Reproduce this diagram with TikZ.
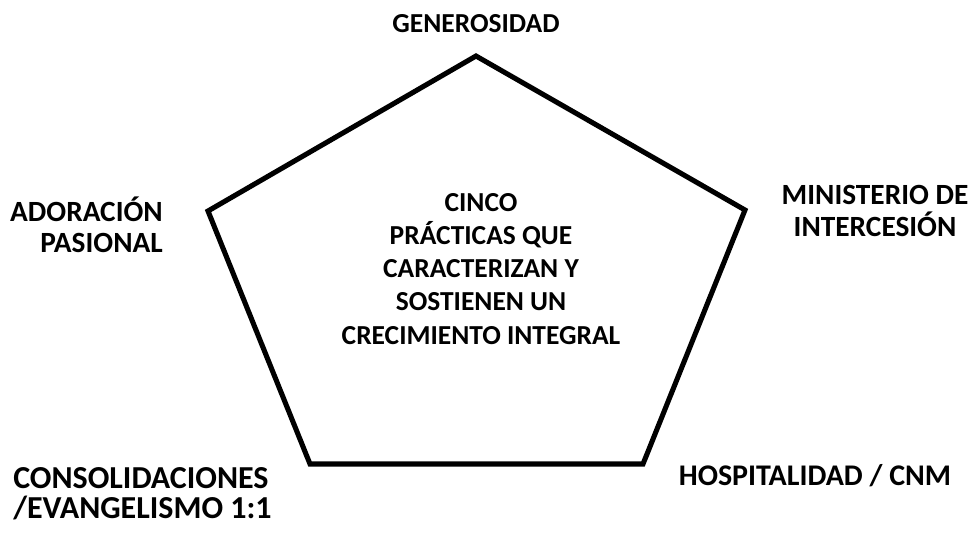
\documentclass[tikz,border=0pt]{standalone}
\usepackage{fontspec}
\setmainfont{Carlito}
\begin{document}
\begin{tikzpicture}[x=0.75pt,y=-0.75pt,
  lbl/.style={inner sep=0pt,font=\bfseries\fontsize{20.6}{24.8}\selectfont},
  sidelbl/.style={inner sep=0pt,font=\bfseries\fontsize{22}{23.5}\selectfont},
  hoslbl/.style={inner sep=0pt,font=\bfseries\fontsize{22.5}{24}\selectfont},
  biglbl/.style={inner sep=0pt,font=\bfseries\fontsize{24}{22.5}\selectfont},
  pent/.style={line width=3.8pt,line join=miter}]
\useasboundingbox (0,0) rectangle (974,532);
\coordinate (vt) at (476,56);
\coordinate (vr) at (745,210);
\coordinate (vbr) at (643,464);
\coordinate (vbl) at (310,464);
\coordinate (vl) at (208,211);
\draw[pent] (vt) -- (vr) -- (vbr) -- (vbl) -- (vl) -- cycle;
\node[lbl] (gen) at (476,24) {GENEROSIDAD};
\node[lbl,align=center] (centro) at (481,269) {CINCO\\PRÁCTICAS QUE\\CARACTERIZAN Y\\SOSTIENEN UN\\CRECIMIENTO INTEGRAL};
\node[sidelbl,align=right,anchor=east] (ado) at (163,225) {ADORACIÓN\\PASIONAL};
\node[sidelbl,align=center] (min) at (875,211) {MINISTERIO DE\\INTERCESIÓN};
\node[hoslbl] (hos) at (815,476) {HOSPITALIDAD / CNM};
\node[biglbl,align=left,anchor=west] (con) at (13,494) {CONSOLIDACIONES\\/EVANGELISMO 1:1};
\end{tikzpicture}
\end{document}
